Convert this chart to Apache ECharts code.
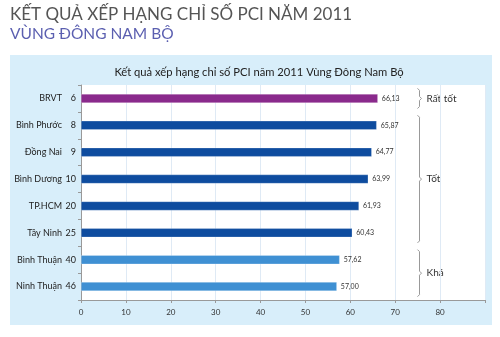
<!DOCTYPE html>
<html><head><meta charset="utf-8">
<script src="https://cdn.jsdelivr.net/npm/echarts@6/dist/echarts.min.js"></script>
<style>html,body{margin:0;padding:0;background:#fff}#c{width:500px;height:337px}</style>
</head><body><div id="c"></div>
<script>
const provinces = ['BRVT','Bình Phước','Đồng Nai','Bình Dương','TP.HCM','Tây Ninh','Bình Thuận','Ninh Thuận'];
const ranks = [6, 8, 9, 10, 20, 25, 40, 46];
const scores = [66.13, 65.87, 64.77, 63.99, 61.93, 60.43, 57.62, 57.00];
const groups = ['Rất tốt','Tốt','Tốt','Tốt','Tốt','Tốt','Khá','Khá'];
const groupNames = ['Rất tốt','Tốt','Khá'];
const groupColors = {'Rất tốt':'#8a2a8c','Tốt':'#0e4c9f','Khá':'#3f90d3'};
const xMin = 0, xMax = 90, xStep = 10, xLabelMax = 80;
const bracketAt = 75.4;

const FONT = 'Lato, "Open Sans", sans-serif';
const chart = echarts.init(document.getElementById('c'), null, {renderer:'canvas'});

const baseGraphics = [
  {id:'panel', type:'rect', z:-10, shape:{x:10,y:55,width:482,height:270}, style:{fill:'#d8eefa'}},
  {id:'t1', type:'text', left:10, top:6, style:{text:'KẾT QUẢ XẾP HẠNG CHỈ SỐ PCI NĂM 2011', fill:'#555', font:'17px '+FONT}},
  {id:'t2', type:'text', left:10, top:26, style:{text:'VÙNG ĐÔNG NAM BỘ', fill:'#5b5fb0', font:'15.5px '+FONT}}
];

chart.setOption({
  animation:false,
  textStyle:{fontFamily:FONT},
  title:{text:'Kết quả xếp hạng chỉ số PCI năm 2011 Vùng Đông Nam Bộ', left:254, textAlign:'center', top:62,
    textStyle:{fontSize:11.2, fontWeight:'normal', color:'#222', fontFamily:FONT}},
  grid:{left:81, right:15, top:85, bottom:37, show:true, backgroundColor:'#fff', borderWidth:0},
  xAxis:{type:'value', min:xMin, max:xMax, interval:xStep,
    axisLine:{show:true, lineStyle:{color:'#999'}},
    axisTick:{show:true, length:3, lineStyle:{color:'#999'}},
    axisLabel:{fontSize:8, color:'#333', margin:8, formatter:v => v<=xLabelMax ? String(v) : ''},
    splitLine:{show:true, lineStyle:{color:'#dfeaf5'}}},
  yAxis:{type:'category', data:provinces, inverse:true,
    axisLine:{show:true, lineStyle:{color:'#999'}},
    axisTick:{show:true, length:3, lineStyle:{color:'#999'}},
    axisLabel:{fontSize:9, color:'#222', margin:5,
      formatter:(v, i) => '{n|' + v + '}{r|' + ranks[i] + '}',
      rich:{n:{fontSize:9, color:'#222', fontFamily:FONT}, r:{fontSize:9, color:'#222', width:14, align:'right', fontFamily:FONT}}},
    splitLine:{show:false}},
  series:[{type:'bar', barWidth:9,
    data:scores.map((s,i)=>({value:s, itemStyle:{color:groupColors[groups[i]]}})),
    itemStyle:{borderColor:'rgba(255,255,255,0.5)', borderWidth:0.5},
    label:{show:true, position:'right', distance:4, fontSize:7, color:'#333',
      formatter:p => p.value.toFixed(2).replace('.',',')}}],
  graphic: baseGraphics
});

const extra = [];
const c0 = chart.convertToPixel({gridIndex:0}, [bracketAt, 0]);
const c1 = chart.convertToPixel({gridIndex:0}, [bracketAt, 1]);
const half = (c1[1]-c0[1])/2;
groupNames.forEach((g, gi) => {
  const idx = groups.map((x,i)=>x===g?i:-1).filter(i=>i>=0);
  const a = chart.convertToPixel({gridIndex:0}, [bracketAt, idx[0]]);
  const b = chart.convertToPixel({gridIndex:0}, [bracketAt, idx[idx.length-1]]);
  const x = Math.round(a[0]) + 0.5;
  const y0 = a[1]-half*0.75, y1 = b[1]+half*0.75, ym = (y0+y1)/2;
  extra.push({id:'br'+gi, type:'polyline', shape:{points:[[x-2,y0],[x,y0+2],[x,ym-2],[x+2,ym],[x,ym+2],[x,y1-2],[x-2,y1]]},
    style:{stroke:'#999', fill:null, lineWidth:1}});
  extra.push({id:'bt'+gi, type:'text', x:x+7, y:ym, style:{text:g, fill:'#333', font:'10px '+FONT, textVerticalAlign:'middle'}});
});
chart.setOption({graphic: baseGraphics.concat(extra)});
</script></body></html>
